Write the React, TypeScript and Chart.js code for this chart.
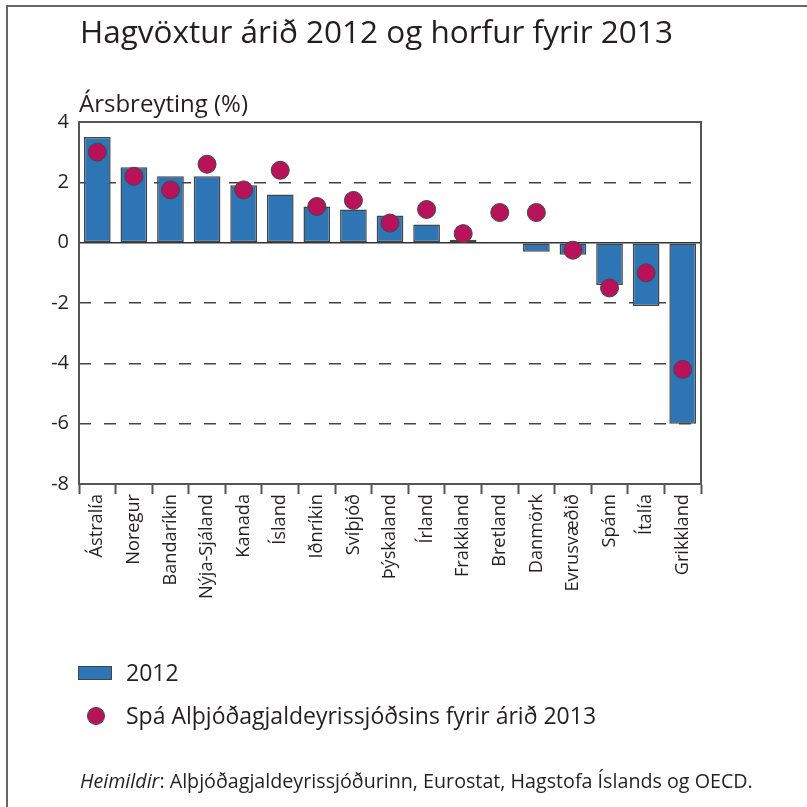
import React, { useEffect, useRef } from "react";
import { Chart, registerables } from "chart.js";

Chart.register(...registerables);

const categories = [
  "Ástralía", "Noregur", "Bandaríkin", "Nýja-Sjáland", "Kanada", "Ísland",
  "Iðnríkin", "Svíþjóð", "Þýskaland", "Írland", "Frakkland", "Bretland",
  "Danmörk", "Evrusvæðið", "Spánn", "Ítalía", "Grikkland",
];
const growth2012 = [3.5, 2.5, 2.2, 2.2, 1.9, 1.6, 1.2, 1.1, 0.9, 0.6, 0.1, 0.0, -0.3, -0.4, -1.4, -2.1, -6.0];
const forecast2013 = [3.0, 2.2, 1.75, 2.6, 1.75, 2.4, 1.2, 1.4, 0.65, 1.1, 0.3, 1.0, 1.0, -0.25, -1.5, -1.0, -4.2];
const yMin = -8;
const yMax = 4;
const yStep = 2;

const titleText = "Hagvöxtur árið 2012 og horfur fyrir 2013";
const yAxisTitle = "Ársbreyting (%)";
const legendBar = "2012";
const legendDot = "Spá Alþjóðagjaldeyrissjóðsins fyrir árið 2013";
const sourceLabel = "Heimildir";
const sourceText = ": Alþjóðagjaldeyrissjóðurinn, Eurostat, Hagstofa Íslands og OECD.";

const FONT = "'Open Sans', Lato, sans-serif";
const BAR_COLOR = "#2e75b6";
const DOT_COLOR = "#b8125a";
const EDGE = "#454545";
const TEXT = "#231f20";

const framePlugin = {
  id: "framePlugin",
  beforeDatasetsDraw(chart: any) {
    const { ctx, chartArea, scales } = chart;
    const y0 = scales.y.getPixelForValue(0);
    ctx.save();
    ctx.strokeStyle = "#333";
    ctx.lineWidth = 1.5;
    ctx.beginPath();
    ctx.moveTo(chartArea.left, y0);
    ctx.lineTo(chartArea.right, y0);
    ctx.stroke();
    ctx.restore();
  },
  afterDraw(chart: any) {
    const { ctx, chartArea } = chart;
    ctx.save();
    ctx.strokeStyle = "#555";
    ctx.lineWidth = 2;
    ctx.beginPath();
    ctx.moveTo(chartArea.left, chartArea.bottom);
    ctx.lineTo(chartArea.left, chartArea.top);
    ctx.lineTo(chartArea.right, chartArea.top);
    ctx.lineTo(chartArea.right, chartArea.bottom);
    ctx.stroke();
    ctx.restore();
  },
};

export default function App() {
  const ref = useRef<HTMLCanvasElement | null>(null);

  useEffect(() => {
    document.body.style.margin = "0";
    const canvas = ref.current;
    if (!canvas) return;
    const chart = new Chart(canvas, {
      type: "bar",
      data: {
        labels: categories,
        datasets: [
          {
            type: "line",
            label: legendDot,
            data: forecast2013,
            showLine: false,
            pointRadius: 9,
            pointHoverRadius: 9,
            pointBackgroundColor: DOT_COLOR,
            pointBorderColor: EDGE,
            pointBorderWidth: 1,
            order: 0,
          } as any,
          {
            type: "bar",
            label: legendBar,
            data: growth2012,
            backgroundColor: BAR_COLOR,
            borderColor: EDGE,
            borderWidth: 1.5,
            borderSkipped: false,
            barPercentage: 0.73,
            categoryPercentage: 1,
            order: 1,
          } as any,
        ],
      },
      options: {
        animation: false,
        responsive: false,
        maintainAspectRatio: false,
        layout: { padding: { left: 0, top: 122, right: 106, bottom: 0 } },
        plugins: {
          legend: { display: false },
          title: { display: false },
          tooltip: { enabled: false },
        },
        scales: {
          x: {
            offset: true,
            afterFit(scale: any) {
              scale.height = 807 - 484;
            },
            grid: {
              offset: true,
              drawOnChartArea: false,
              drawTicks: true,
              tickLength: 10,
              tickColor: "#555",
              tickWidth: 2,
            },
            border: { display: true, color: "#555", width: 2 },
            ticks: {
              minRotation: 90,
              maxRotation: 90,
              autoSkip: false,
              padding: 0,
              color: TEXT,
              font: { family: FONT, size: 18.2 },
            },
          },
          y: {
            min: yMin,
            max: yMax,
            afterFit(scale: any) {
              scale.width = 79;
            },
            ticks: {
              stepSize: yStep,
              padding: 10,
              color: TEXT,
              font: { family: FONT, size: 20 },
            },
            grid: {
              drawTicks: false,
              lineWidth: 1.5,
              color: (c: any) => {
                const v = c.tick ? c.tick.value : null;
                if (v === yMin || v === yMax || v === 0) return "rgba(0,0,0,0)";
                return "#444";
              },
            },
            border: { display: false, dash: [12, 13] },
          },
        },
      },
      plugins: [framePlugin],
    });
    return () => chart.destroy();
  }, []);

  return (
    <div
      style={{
        position: "fixed",
        left: 0,
        top: 0,
        width: 807,
        height: 807,
        background: "#fff",
        fontFamily: FONT,
        color: TEXT,
        overflow: "hidden",
      }}
    >
      <div
        style={{
          position: "absolute",
          left: 6,
          top: 5,
          right: -10,
          bottom: -10,
          borderLeft: "2px solid #666",
          borderTop: "2px solid #666",
        }}
      />
      <canvas ref={ref} width={807} height={807} style={{ position: "absolute", left: 0, top: 0 }} />
      <div style={{ position: "absolute", left: 80, top: 11, fontSize: 31.5, lineHeight: "40px", whiteSpace: "nowrap" }}>
        {titleText}
      </div>
      <div style={{ position: "absolute", left: 79, top: 87, fontSize: 24, lineHeight: "31px", whiteSpace: "nowrap" }}>
        {yAxisTitle}
      </div>
      <div style={{ position: "absolute", left: 78, top: 666, width: 34, height: 14, background: BAR_COLOR, border: `1px solid ${EDGE}`, boxSizing: "border-box" }} />
      <div style={{ position: "absolute", left: 126, top: 657, fontSize: 23, lineHeight: "31px", whiteSpace: "nowrap" }}>
        {legendBar}
      </div>
      <div style={{ position: "absolute", left: 87, top: 707, width: 18, height: 18, borderRadius: "50%", background: DOT_COLOR, border: `1px solid ${EDGE}`, boxSizing: "border-box" }} />
      <div style={{ position: "absolute", left: 126, top: 700, fontSize: 23, lineHeight: "31px", whiteSpace: "nowrap" }}>
        {legendDot}
      </div>
      <div style={{ position: "absolute", left: 80, top: 767, fontSize: 19.7, lineHeight: "27px", whiteSpace: "nowrap" }}>
        <i>{sourceLabel}</i>
        {sourceText}
      </div>
    </div>
  );
}
